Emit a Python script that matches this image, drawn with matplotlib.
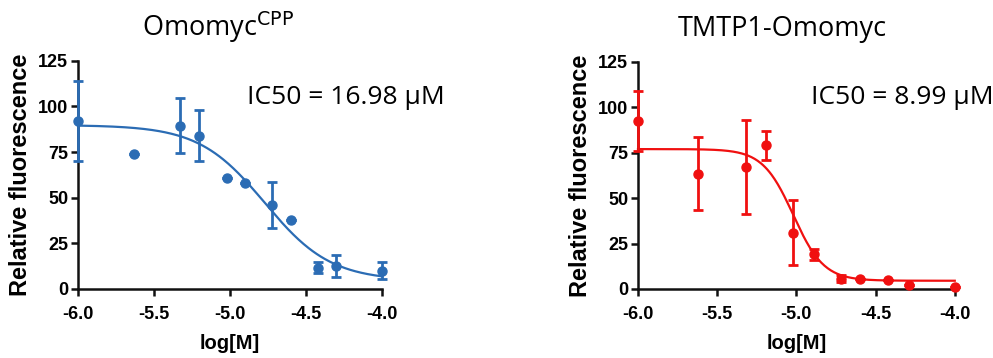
import matplotlib
matplotlib.use("Agg")
import matplotlib.pyplot as plt
import numpy as np

# Omomyc-CPP data (log molar, relative fluorescence, SEM)
cpp_x = [-6.0, -5.63, -5.33, -5.2, -5.02, -4.9, -4.72, -4.6, -4.42, -4.3, -4.0]
cpp_y = [92, 74, 89.5, 84, 61, 58, 46, 38, 11.5, 12.5, 10]
cpp_err = [22, 0, 15, 14, 0, 0, 12.7, 0, 3, 6, 4.6]
# fitted curve parameters: top, bottom, logIC50, hill
cpp_fit = [89.8, 4.5, -4.77, 2.0]

# TMTP1-Omomyc data
tmtp_x = [-6.0, -5.62, -5.32, -5.19, -5.02, -4.89, -4.72, -4.6, -4.42, -4.29, -4.0]
tmtp_y = [92.5, 63.5, 67, 79, 31, 19, 5.7, 5.7, 5.1, 2.4, 1.1]
tmtp_err = [16.5, 20, 26, 8, 18, 3, 2, 0, 0, 0, 0]
tmtp_fit = [77, 4.5, -5.02, 4.5]

titles = ["Omomyc$^{\\mathrm{CPP}}$", "TMTP1-Omomyc"]
ic50_labels = ["IC50 = 16.98 \u00b5M", "IC50 = 8.99 \u00b5M"]

blue = '#2b6cb4'
red = '#f01010'

fig = plt.figure(figsize=(9.93, 3.58), dpi=100)


def logistic(x, top, bottom, logic50, hill):
    return bottom + (top - bottom) / (1 + 10 ** ((x - logic50) * hill))


def panel(rect, xs, ys, errs, fit, color):
    ax = fig.add_axes(rect)
    ax.errorbar(xs, ys, yerr=errs, fmt='o', color=color, ms=6.5,
                elinewidth=2, capsize=3.5, capthick=2, clip_on=False, zorder=3)
    xx = np.linspace(-6, -4, 300)
    ax.plot(xx, logistic(xx, *fit), color=color, lw=1.6, clip_on=False)
    ax.set_xlim(-6, -4)
    ax.set_ylim(0, 125)
    ax.set_xticks([-6, -5.5, -5, -4.5, -4])
    ax.set_xticklabels(['-6.0', '-5.5', '-5.0', '-4.5', '-4.0'])
    ax.set_yticks([0, 25, 50, 75, 100, 125])
    for s in ['top', 'right']:
        ax.spines[s].set_visible(False)
    for s in ['left', 'bottom']:
        ax.spines[s].set_linewidth(1.8)
        ax.spines[s].set_color('#111111')
    ax.tick_params(width=1.8, length=5, labelsize=13, pad=2, color='#111111')
    ax.tick_params(axis='x', pad=7)
    for lab in ax.get_xticklabels() + ax.get_yticklabels():
        lab.set_fontweight('bold')
        lab.set_family('Liberation Sans')
    ax.set_xlabel('log[M]', fontsize=14.5, fontweight='bold', family='Liberation Sans', labelpad=8)
    ax.set_ylabel('Relative fluorescence', fontsize=17, fontweight='bold',
                  family='Liberation Sans', labelpad=4)
    return ax


ax1 = panel([0.0785, 0.193, 0.306, 0.637], cpp_x, cpp_y, cpp_err, cpp_fit, blue)
ax2 = panel([0.6425, 0.193, 0.319, 0.634], tmtp_x, tmtp_y, tmtp_err, tmtp_fit, red)

fig.text(0.22, 0.90, titles[0], fontsize=19.5, family='Open Sans', ha='center', va='baseline')
fig.text(0.788, 0.90, titles[1], fontsize=19.5, family='Open Sans', ha='center', va='baseline')
fig.text(0.249, 0.727, ic50_labels[0], fontsize=19, family='Open Sans', va='center')
fig.text(0.817, 0.727, ic50_labels[1], fontsize=19, family='Open Sans', va='center')

fig.savefig('out.png', dpi=100)
